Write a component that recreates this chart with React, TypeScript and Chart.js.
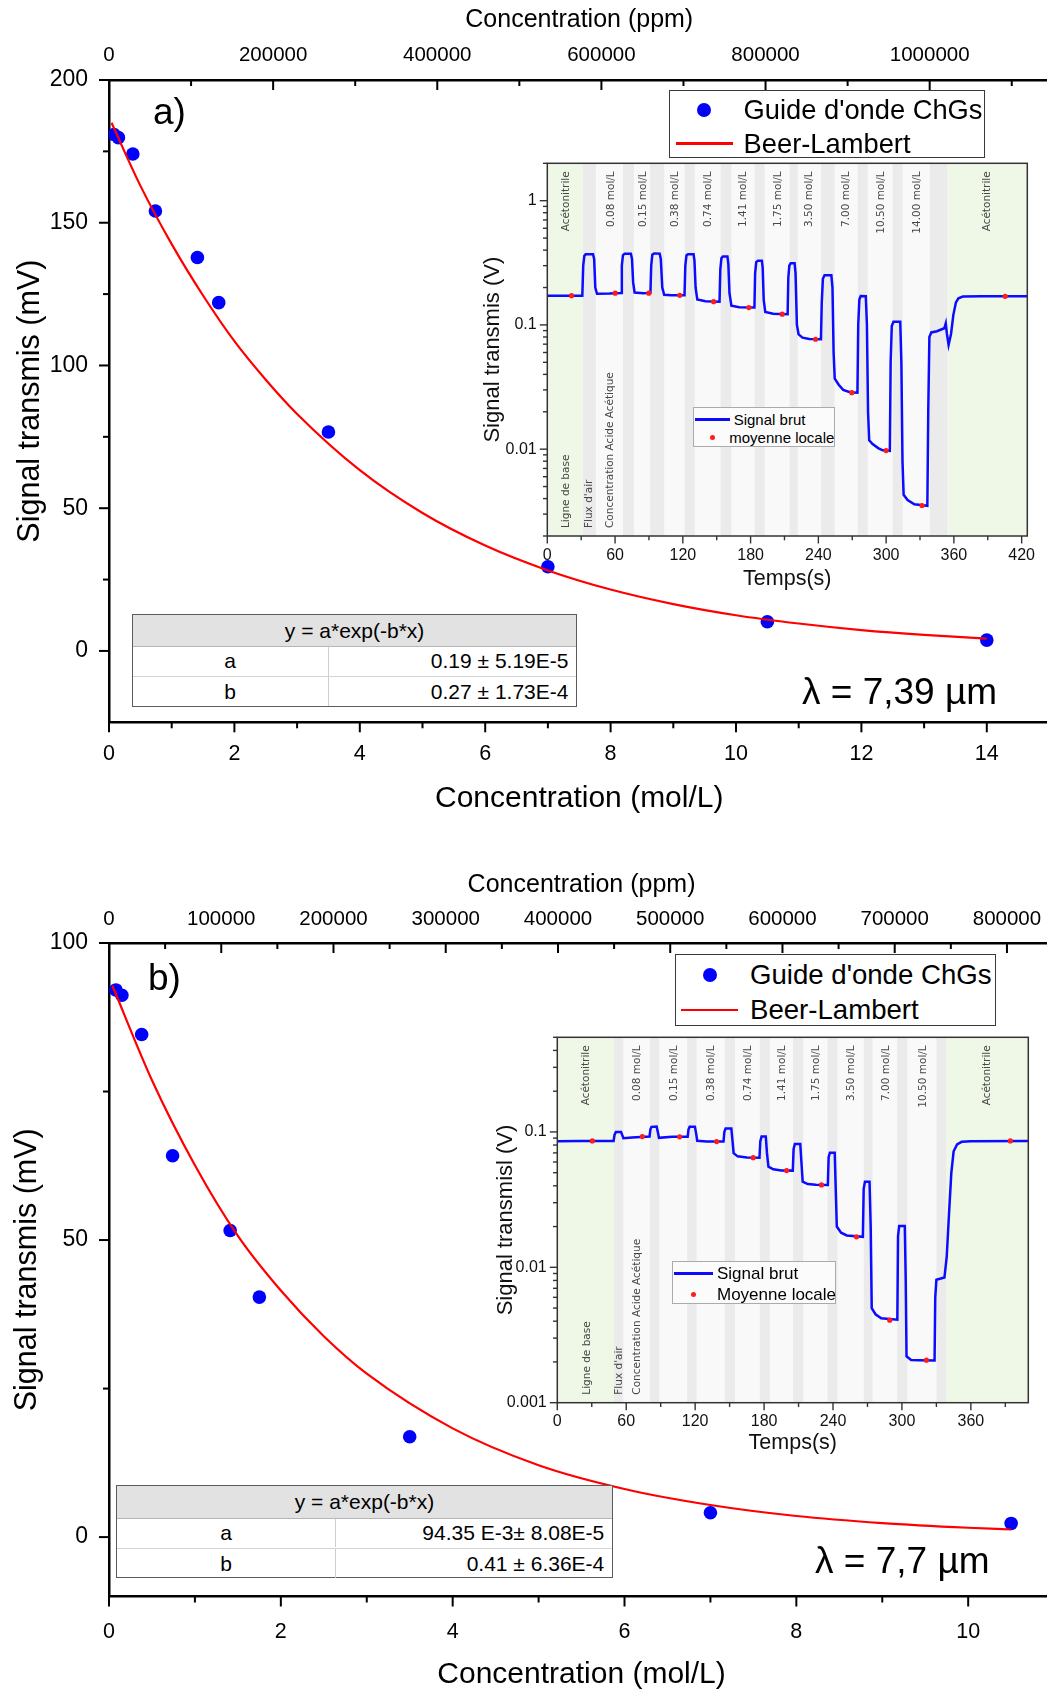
import React, { useEffect, useRef } from "react";
import { Chart, registerables } from "chart.js";

Chart.register(...registerables);

const SANS = "'Liberation Sans', Arial, Helvetica, sans-serif";
const BANDF = "'DejaVu Sans', Verdana, sans-serif";

// ---------------- Panel a) main chart (λ = 7,39 µm) ----------------
const concA = [0.08, 0.15, 0.38, 0.74, 1.41, 1.75, 3.5, 7, 10.5, 14];
const signalA = [180.9, 179.8, 174.1, 154.1, 137.8, 122.0, 76.7, 29.5, 10.2, 3.8];
const fitConcA = [0.04, 0.5, 1, 1.5, 2, 2.5, 3, 4, 5, 6, 7, 8, 9, 10, 11, 12, 13, 14];
const fitSignalA = [185, 163, 142.5, 124.5, 108.5, 95, 83, 63.3, 48.3, 36.9, 28.2, 21.5, 16.4, 12.5, 9.6, 7.3, 5.6, 4.3];
const xTicksA = [0, 2, 4, 6, 8, 10, 12, 14];
const xMinorA = [1, 3, 5, 7, 9, 11, 13];
const ppmTicksA = [0, 200000, 400000, 600000, 800000, 1000000];
const ppmMinorA = [100000, 300000, 500000, 700000, 900000, 1100000];
const yTicksA = [0, 50, 100, 150, 200];
const yMinorA = [25, 75, 125, 175];
const fitParamsA = [["a", "0.19 ± 5.19E-5"], ["b", "0.27 ± 1.73E-4"]];

// ---------------- Panel b) main chart (λ = 7,7 µm) ----------------
const concB = [0.08, 0.15, 0.38, 0.74, 1.41, 1.75, 3.5, 7, 10.5];
const signalB = [92.1, 91.2, 84.6, 64.2, 51.6, 40.4, 16.9, 4.1, 2.3];
const fitConcB = [0.04, 0.5, 1, 1.5, 2, 2.5, 3, 4, 5, 6, 7, 8, 9, 10, 10.5];
const fitSignalB = [92.8, 76.9, 62.6, 50.7, 41.5, 33.8, 27.5, 18.3, 12.1, 8.1, 5.4, 3.55, 2.36, 1.57, 1.28];
const xTicksB = [0, 2, 4, 6, 8, 10];
const xMinorB = [1, 3, 5, 7, 9];
const ppmTicksB = [0, 100000, 200000, 300000, 400000, 500000, 600000, 700000, 800000];
const ppmMinorB = [50000, 150000, 250000, 350000, 450000, 550000, 650000, 750000];
const yTicksB = [0, 50, 100];
const yMinorB = [25, 75];
const fitParamsB = [["a", "94.35 E-3± 8.08E-5"], ["b", "0.41 ± 6.36E-4"]];

// ---------------- Inset a) time trace ----------------
const traceA: [number, number][] = [
  [0, 0.172], [31, 0.172],
  [31.8, 0.3], [32.8, 0.36], [34, 0.37], [40.5, 0.37], [41.5, 0.34], [42.5, 0.2], [44, 0.178],
  [55, 0.179], [65.3, 0.181],
  [66, 0.3], [67, 0.365], [68.5, 0.374], [74, 0.374], [75, 0.34], [76, 0.22], [77.3, 0.182],
  [85, 0.18], [91.3, 0.181],
  [92, 0.3], [93, 0.368], [94.5, 0.376], [99.5, 0.375], [100.5, 0.34], [101.8, 0.2], [103.5, 0.175],
  [110, 0.173], [121.5, 0.173],
  [122.2, 0.3], [123.2, 0.362], [124.5, 0.37], [129.5, 0.37], [130.3, 0.33], [131.3, 0.2], [132.8, 0.16],
  [140, 0.155], [152.5, 0.154],
  [153.2, 0.28], [154.2, 0.345], [155.5, 0.355], [159.5, 0.355], [160.3, 0.31], [161.3, 0.18], [163, 0.143],
  [170, 0.139], [183.4, 0.138],
  [184, 0.26], [185, 0.32], [186.5, 0.329], [190, 0.329], [190.7, 0.29], [191.6, 0.16], [193, 0.127],
  [200, 0.123], [212.8, 0.122],
  [213.4, 0.24], [214.3, 0.3], [215.5, 0.313], [219, 0.313], [219.8, 0.26], [221, 0.1], [222.5, 0.084],
  [226, 0.079], [232, 0.0772], [242.3, 0.0767],
  [243, 0.15], [244, 0.235], [245.5, 0.251], [251.5, 0.251], [252.5, 0.2], [253.5, 0.06], [254.5, 0.037],
  [258, 0.033], [262, 0.03], [268, 0.0287], [274.6, 0.0285],
  [275.3, 0.1], [276.3, 0.16], [277.5, 0.171], [282, 0.17], [283, 0.1], [284, 0.02], [285, 0.0118],
  [288, 0.011], [293, 0.0102], [297, 0.0098], [303.3, 0.0097],
  [304, 0.05], [305, 0.098], [306.5, 0.106], [312.5, 0.106], [313.5, 0.05], [314.5, 0.008], [315.5, 0.0043],
  [319, 0.0039], [325, 0.0036], [336.5, 0.0035],
  [337.3, 0.02], [338.3, 0.08], [340, 0.087], [345, 0.089], [351.5, 0.094], [352.8, 0.103], [353.8, 0.085],
  [355.3, 0.069], [357.5, 0.085], [359.5, 0.12], [361.8, 0.152], [364, 0.164], [368, 0.169], [385, 0.17], [425, 0.17],
];
const meansA: [number, number][] = [
  [21.5, 0.172], [60.1, 0.18], [89.9, 0.18], [117.3, 0.173], [147.3, 0.154], [178.5, 0.138],
  [208, 0.122], [237.5, 0.0767], [269.6, 0.0285], [300, 0.00975], [331.8, 0.00352], [405.4, 0.17],
];
const airSpansA: [number, number][] = [
  [31.3, 43], [67, 76.7], [91, 103.5], [121.7, 130.5], [153.5, 163], [183.5, 192.4],
  [214.5, 221.8], [242.5, 254.3], [274.9, 283.7], [305.8, 314.6], [338.8, 354.4],
];
const solventSpansA: [number, number][] = [[0, 31.3], [354.4, 425]];
const topLabelsA: [string, number][] = [
  ["Acétonitrile", 16.5], ["0.08 mol/L", 56.3], ["0.15 mol/L", 84.9], ["0.38 mol/L", 112.9],
  ["0.74 mol/L", 142.3], ["1.41 mol/L", 173.8], ["1.75 mol/L", 204.2], ["3.50 mol/L", 232.2],
  ["7.00 mol/L", 264.6], ["10.50 mol/L", 295.5], ["14.00 mol/L", 327.3], ["Acétonitrile", 389.8],
];
const bottomLabelsA: [string, number][] = [
  ["Ligne de base", 17], ["Flux d'air", 37], ["Concentration Acide Acétique", 56],
];
const tTicksA = [0, 60, 120, 180, 240, 300, 360, 420];
const tMinorA = [30, 90, 150, 210, 270, 330, 390];
const vTicksA = [0.01, 0.1, 1];
const vMinorA = [0.002, 0.003, 0.004, 0.005, 0.006, 0.007, 0.008, 0.009, 0.02, 0.03, 0.04, 0.05, 0.06, 0.07, 0.08, 0.09, 0.2, 0.3, 0.4, 0.5, 0.6, 0.7, 0.8, 0.9, 2];

// ---------------- Inset b) time trace ----------------
const traceB: [number, number][] = [
  [0, 0.0855], [20, 0.0857], [49, 0.0858],
  [49.8, 0.095], [51, 0.1], [55.5, 0.1], [56.5, 0.095], [57.5, 0.0898],
  [65, 0.091], [80.3, 0.0925],
  [81, 0.104], [82, 0.109], [86.5, 0.1094], [87.5, 0.1], [88.5, 0.0905],
  [100, 0.092], [113.5, 0.092],
  [114.2, 0.104], [115.2, 0.109], [119.8, 0.109], [120.8, 0.098], [121.8, 0.086],
  [130, 0.085], [144.7, 0.085],
  [145.4, 0.1], [146.5, 0.1058], [151.5, 0.1058], [152.3, 0.09], [153.5, 0.0697], [157, 0.066],
  [165, 0.0648], [176, 0.0645],
  [176.7, 0.085], [177.8, 0.0924], [181.5, 0.0924], [182.5, 0.07], [183.8, 0.0554], [188, 0.053],
  [195, 0.052], [205, 0.0518],
  [205.7, 0.075], [206.8, 0.0815], [211.5, 0.0815], [212.5, 0.06], [213.6, 0.0429], [218, 0.0412],
  [225, 0.0407], [235.5, 0.0406],
  [236.2, 0.065], [237.3, 0.0703], [241.5, 0.0703], [242.3, 0.04], [243.3, 0.02], [247, 0.018],
  [252, 0.0172], [266, 0.0168],
  [266.7, 0.038], [267.8, 0.0429], [271.8, 0.0429], [272.8, 0.02], [273.7, 0.005], [277, 0.0045],
  [282, 0.0042], [296, 0.0041],
  [296.6, 0.017], [297.6, 0.0202], [302.5, 0.0202], [303.3, 0.008], [304, 0.0022], [308, 0.00207],
  [315, 0.00206], [328.4, 0.00205],
  [329, 0.006], [330, 0.0081], [337, 0.0084], [339, 0.012], [341, 0.025], [343, 0.05], [345, 0.072],
  [348, 0.081], [352, 0.0845], [360, 0.0855], [410, 0.0858],
];
const meansB: [number, number][] = [
  [30.5, 0.0858], [74, 0.0924], [106.5, 0.092], [138.7, 0.0848], [170.5, 0.0645], [199.6, 0.0518],
  [230, 0.0406], [260.4, 0.0168], [289.4, 0.00407], [321.3, 0.00206], [394.4, 0.0858],
];
const airSpansB: [number, number][] = [
  [49.3, 57.4], [80.6, 88.7], [113, 121.3], [145.9, 154.6], [176.3, 185], [205.3, 214],
  [235.2, 243.9], [266.8, 274.4], [295.8, 304.8], [330, 338.8],
];
const solventSpansB: [number, number][] = [[0, 49.3], [338.8, 410]];
const topLabelsB: [string, number][] = [
  ["Acétonitrile", 25.6], ["0.08 mol/L", 70], ["0.15 mol/L", 101.8], ["0.38 mol/L", 134.3],
  ["0.74 mol/L", 166.2], ["1.41 mol/L", 196], ["1.75 mol/L", 225.6], ["3.50 mol/L", 256],
  ["7.00 mol/L", 286], ["10.50 mol/L", 318.4], ["Acétonitrile", 374.4],
];
const bottomLabelsB: [string, number][] = [
  ["Ligne de base", 26], ["Flux d'air", 53.7], ["Concentration Acide Acétique", 69.6],
];
const tTicksB = [0, 60, 120, 180, 240, 300, 360];
const tMinorB = [30, 90, 150, 210, 270, 330, 390];
const vTicksB = [0.001, 0.01, 0.1];
const vMinorB = [0.002, 0.003, 0.004, 0.005, 0.006, 0.007, 0.008, 0.009, 0.02, 0.03, 0.04, 0.05, 0.06, 0.07, 0.08, 0.09, 0.2, 0.3, 0.4, 0.5];

const LABEL_POINTS = "Guide d'onde ChGs";
const LABEL_FIT = "Beer-Lambert";

// ---------------- helpers ----------------
const fnt = (size: number, family = SANS) => ({ family, size, lineHeight: 1 });
const noPad = (s: any) => { s.paddingTop = 0; s.paddingBottom = 0; s.paddingLeft = 0; s.paddingRight = 0; };

function tickPlugin(id: string, specs: any[]) {
  return {
    id,
    afterDraw(chart: any) {
      const { ctx, chartArea: a } = chart;
      ctx.save();
      ctx.lineCap = "butt";
      for (const s of specs) {
        const sc = chart.scales[s.scale];
        ctx.strokeStyle = s.color;
        ctx.lineWidth = s.width;
        const draw = (vals: number[], len: number) => {
          for (const v of vals) {
            const p = sc.getPixelForValue(v);
            ctx.beginPath();
            if (s.side === "bottom") {
              ctx.moveTo(p, a.bottom);
              ctx.lineTo(p, a.bottom + (s.inward ? -len : len));
            } else if (s.side === "top") {
              ctx.moveTo(p, a.top);
              ctx.lineTo(p, a.top + (s.inward ? len : -len));
            } else {
              ctx.moveTo(a.left, p);
              ctx.lineTo(a.left + (s.inward ? len : -len), p);
            }
            ctx.stroke();
          }
        };
        draw(s.major, s.majorLen);
        draw(s.minor, s.minorLen);
      }
      ctx.restore();
    },
  };
}

function makeMain(canvas: HTMLCanvasElement, c: any) {
  return new Chart(canvas, {
    type: "scatter",
    data: {
      datasets: [
        {
          type: "line",
          label: LABEL_FIT,
          data: c.fitConc.map((x: number, i: number) => ({ x, y: c.fitSignal[i] })),
          borderColor: "#ff0000",
          borderWidth: 2.2,
          pointRadius: 0,
          cubicInterpolationMode: "monotone",
          fill: false,
          xAxisID: "x",
          yAxisID: "y",
        },
        {
          type: "scatter",
          label: LABEL_POINTS,
          data: c.conc.map((x: number, i: number) => ({ x, y: c.signal[i] })),
          backgroundColor: "#0000ff",
          borderColor: "#0000ff",
          borderWidth: 0,
          pointRadius: 6.8,
          xAxisID: "x",
          yAxisID: "y",
        },
      ],
    } as any,
    options: {
      animation: false,
      responsive: false,
      maintainAspectRatio: false,
      devicePixelRatio: 1,
      events: [],
      layout: { padding: { left: 0, top: 0, right: c.padRight, bottom: 0 } },
      plugins: { legend: { display: false }, tooltip: { enabled: false } },
      scales: {
        x: {
          type: "linear",
          position: "bottom",
          min: 0,
          max: c.xMax,
          afterBuildTicks: (s: any) => { s.ticks = c.xTicks.map((v: number) => ({ value: v })); },
          afterFit: (s: any) => { s.height = c.bottomH; noPad(s); },
          grid: { drawOnChartArea: false, drawTicks: false },
          border: { display: true, color: "#000", width: 2.5 },
          ticks: { padding: c.bottomTickPad, font: fnt(21.5), color: "#000", maxRotation: 0, autoSkip: false, callback: (v: any) => String(v) },
          title: { display: true, text: "Concentration (mol/L)", font: fnt(30), color: "#000", padding: { top: 0, bottom: c.bottomTitlePad } },
        },
        ppm: {
          type: "linear",
          axis: "x",
          position: "top",
          min: 0,
          max: c.ppmMax,
          afterBuildTicks: (s: any) => { s.ticks = c.ppmTicks.map((v: number) => ({ value: v })); },
          afterFit: (s: any) => { s.height = c.topH; noPad(s); },
          grid: { drawOnChartArea: false, drawTicks: false },
          border: { display: true, color: "#000", width: 2.5 },
          ticks: { padding: c.topTickPad, font: fnt(20.5), color: "#000", maxRotation: 0, autoSkip: false, callback: (v: any) => String(v) },
          title: { display: true, text: "Concentration (ppm)", font: fnt(25), color: "#000", padding: { top: c.topTitlePad, bottom: 0 } },
        },
        y: {
          type: "linear",
          position: "left",
          min: c.yMin,
          max: c.yMax,
          afterBuildTicks: (s: any) => { s.ticks = c.yTicks.map((v: number) => ({ value: v })); },
          afterFit: (s: any) => { s.width = c.leftW; noPad(s); },
          grid: { drawOnChartArea: false, drawTicks: false },
          border: { display: true, color: "#000", width: 2.5 },
          ticks: { padding: c.leftTickPad, font: fnt(23), color: "#000", autoSkip: false, callback: (v: any) => String(v) },
          title: { display: true, text: "Signal transmis (mV)", font: fnt(30.5), color: "#000", padding: { top: c.leftTitlePad, bottom: 0 } },
        },
      },
    } as any,
    plugins: [
      tickPlugin("mainTicks", [
        { scale: "x", side: "bottom", major: c.xTicks, minor: c.xMinor, majorLen: 10, minorLen: 6, width: 2, color: "#000" },
        { scale: "ppm", side: "top", inward: true, major: c.ppmTicks, minor: c.ppmMinor, majorLen: 10, minorLen: 6, width: 2, color: "#000" },
        { scale: "y", side: "left", major: c.yTicks, minor: c.yMinor, majorLen: 10, minorLen: 6, width: 2, color: "#000" },
      ]),
    ] as any,
  });
}

const SOLVENT = "#eff7e7";
const AIR = "#ebebeb";
const LIQUID = "#f9f9f9";

function bandPlugin(c: any) {
  return {
    id: "bands",
    beforeDatasetsDraw(chart: any) {
      const { ctx, chartArea: a } = chart;
      const xs = chart.scales.x;
      ctx.save();
      ctx.beginPath();
      ctx.rect(a.left, a.top, a.right - a.left, a.bottom - a.top);
      ctx.clip();
      ctx.fillStyle = LIQUID;
      ctx.fillRect(a.left, a.top, a.right - a.left, a.bottom - a.top);
      const spans = (list: [number, number][], color: string) => {
        ctx.fillStyle = color;
        for (const [s, e] of list) {
          const x0 = xs.getPixelForValue(s);
          const x1 = xs.getPixelForValue(e);
          ctx.fillRect(x0, a.top, x1 - x0, a.bottom - a.top);
        }
      };
      spans(c.air, AIR);
      spans(c.solvent, SOLVENT);
      ctx.fillStyle = "#474747";
      ctx.font = `10.5px ${BANDF}`;
      ctx.textBaseline = "middle";
      for (const [txt, t] of c.topLabels) {
        ctx.save();
        ctx.translate(xs.getPixelForValue(t), a.top + 8);
        ctx.rotate(-Math.PI / 2);
        ctx.textAlign = "right";
        ctx.fillText(txt, 0, 0);
        ctx.restore();
      }
      for (const [txt, t] of c.bottomLabels) {
        ctx.save();
        ctx.translate(xs.getPixelForValue(t), a.bottom - 8);
        ctx.rotate(-Math.PI / 2);
        ctx.textAlign = "left";
        ctx.fillText(txt, 0, 0);
        ctx.restore();
      }
      ctx.restore();
    },
    afterDatasetsDraw(chart: any) {
      const { ctx, chartArea: a } = chart;
      ctx.save();
      ctx.strokeStyle = "#333";
      ctx.lineWidth = 1.5;
      ctx.strokeRect(a.left, a.top, a.right - a.left, a.bottom - a.top);
      ctx.restore();
    },
  };
}

function makeInset(canvas: HTMLCanvasElement, c: any) {
  return new Chart(canvas, {
    type: "scatter",
    data: {
      datasets: [
        {
          type: "scatter",
          label: c.meanLabel,
          data: c.means.map(([x, y]: [number, number]) => ({ x, y })),
          backgroundColor: "#ff1c1c",
          borderWidth: 0,
          pointRadius: 2.6,
        },
        {
          type: "line",
          label: "Signal brut",
          data: c.trace.map(([x, y]: [number, number]) => ({ x, y })),
          borderColor: "#0b0bff",
          borderWidth: 2.5,
          pointRadius: 0,
          tension: 0,
          fill: false,
        },
      ],
    } as any,
    options: {
      animation: false,
      responsive: false,
      maintainAspectRatio: false,
      devicePixelRatio: 1,
      events: [],
      layout: { padding: { left: 0, top: c.padTop, right: c.padRight, bottom: 0 } },
      plugins: { legend: { display: false }, tooltip: { enabled: false } },
      scales: {
        x: {
          type: "linear",
          position: "bottom",
          min: 0,
          max: c.tMax,
          afterBuildTicks: (s: any) => { s.ticks = c.tTicks.map((v: number) => ({ value: v })); },
          afterFit: (s: any) => { s.height = c.bottomH; noPad(s); },
          grid: { drawOnChartArea: false, drawTicks: false },
          border: { display: false },
          ticks: { padding: c.bottomTickPad, font: fnt(16), color: "#111", maxRotation: 0, autoSkip: false, callback: (v: any) => String(v) },
          title: { display: true, text: "Temps(s)", font: fnt(21.5), color: "#111", padding: { top: 0, bottom: c.bottomTitlePad } },
        },
        y: {
          type: "logarithmic",
          position: "left",
          min: c.vMin,
          max: c.vMax,
          afterBuildTicks: (s: any) => { s.ticks = c.vTicks.map((v: number) => ({ value: v })); },
          afterFit: (s: any) => { s.width = c.leftW; noPad(s); },
          grid: { drawOnChartArea: false, drawTicks: false },
          border: { display: false },
          ticks: { padding: c.leftTickPad, font: fnt(16), color: "#111", autoSkip: false, callback: (v: any) => String(v) },
          title: { display: true, text: c.yTitle, font: fnt(22), color: "#111", padding: { top: c.leftTitlePad, bottom: 0 } },
        },
      },
    } as any,
    plugins: [
      bandPlugin(c),
      tickPlugin("insetTicks", [
        { scale: "x", side: "bottom", major: c.tTicks, minor: c.tMinor, majorLen: 7.5, minorLen: 4.3, width: 1.4, color: "#333" },
        { scale: "y", side: "left", major: c.vTicks, minor: c.vMinor, majorLen: 7.5, minorLen: 4.3, width: 1.4, color: "#333" },
      ]),
    ] as any,
  });
}

const cfgMainA = {
  conc: concA, signal: signalA, fitConc: fitConcA, fitSignal: fitSignalA,
  xTicks: xTicksA, xMinor: xMinorA, ppmTicks: ppmTicksA, ppmMinor: ppmMinorA, yTicks: yTicksA, yMinor: yMinorA,
  xMax: 15, ppmMax: 1146000, yMin: -25, yMax: 200,
  padRight: 10.5, leftW: 109, topH: 80, bottomH: 107.7,
  topTitlePad: 7.5, topTickPad: 14.7, bottomTickPad: 21, bottomTitlePad: 16.7, leftTickPad: 21, leftTitlePad: 15,
};
const cfgMainB = {
  conc: concB, signal: signalB, fitConc: fitConcB, fitSignal: fitSignalB,
  xTicks: xTicksB, xMinor: xMinorB, ppmTicks: ppmTicksB, ppmMinor: ppmMinorB, yTicks: yTicksB, yMinor: yMinorB,
  xMax: 11, ppmMax: 842000, yMin: -10, yMax: 100,
  padRight: 10.9, leftW: 109, topH: 93, bottomH: 96.5,
  topTitlePad: 22.5, topTickPad: 13.25, bottomTickPad: 25, bottomTitlePad: 3, leftTickPad: 21, leftTitlePad: 12,
};
const cfgInsetA = {
  trace: traceA, means: meansA, air: airSpansA, solvent: solventSpansA, topLabels: topLabelsA, bottomLabels: bottomLabelsA,
  tTicks: tTicksA, tMinor: tMinorA, vTicks: vTicksA, vMinor: vMinorA, tMax: 425, vMin: 0.002, vMax: 2,
  yTitle: "Signal transmis (V)", meanLabel: "moyenne locale",
  padTop: 13.3, padRight: 19.7, leftW: 77.3, bottomH: 59,
  bottomTickPad: 11.3, bottomTitlePad: 5.5, leftTickPad: 10.6, leftTitlePad: 12.3,
};
const cfgInsetB = {
  trace: traceB, means: meansB, air: airSpansB, solvent: solventSpansB, topLabels: topLabelsB, bottomLabels: bottomLabelsB,
  tTicks: tTicksB, tMinor: tMinorB, vTicks: vTicksB, vMinor: vMinorB, tMax: 410, vMin: 0.001, vMax: 0.5,
  yTitle: "Signal transmisl (V)", meanLabel: "Moyenne locale",
  padTop: 17.3, padRight: 18.7, leftW: 87.3, bottomH: 62.3,
  bottomTickPad: 11, bottomTitlePad: 10.9, leftTickPad: 10.6, leftTitlePad: 24.5,
};

// ---------------- HTML overlays ----------------
function Txt(p: { x: number; y: number; size: number; children: any; family?: string; color?: string }) {
  return (
    <div
      style={{
        position: "absolute", left: p.x, top: p.y - p.size / 2, height: p.size, fontSize: p.size,
        lineHeight: `${p.size}px`, fontFamily: p.family || SANS, color: p.color || "#000", whiteSpace: "nowrap",
      }}
    >
      {p.children}
    </div>
  );
}

function MainLegend(p: { left: number; top: number; w: number; h: number; dot: [number, number]; textX: number; row2: number; line: [number, number]; size: number }) {
  return (
    <div style={{ position: "absolute", left: p.left, top: p.top, width: p.w, height: p.h, boxSizing: "border-box", border: "1px solid #3a3a3a", background: "#fff" }}>
      <div style={{ position: "absolute", left: p.dot[0] - 7, top: p.dot[1] - 7, width: 14, height: 14, borderRadius: "50%", background: "#0000ff" }} />
      <Txt x={p.textX} y={p.dot[1]} size={p.size}>{LABEL_POINTS}</Txt>
      <div style={{ position: "absolute", left: p.line[0], width: p.line[1] - p.line[0], top: p.row2 - 1.1, height: 2.2, background: "#ff0000" }} />
      <Txt x={p.textX} y={p.row2} size={p.size}>{LABEL_FIT}</Txt>
    </div>
  );
}

function InsetLegend(p: { left: number; top: number; w: number; h: number; size: number; line: [number, number]; row1: number; text1: number; dot: [number, number]; text2: number; meanLabel: string }) {
  return (
    <div style={{ position: "absolute", left: p.left, top: p.top, width: p.w, height: p.h, boxSizing: "border-box", border: "1px solid #ababab", background: "#fbfbfb" }}>
      <div style={{ position: "absolute", left: p.line[0], width: p.line[1] - p.line[0], top: p.row1 - 1.25, height: 2.5, background: "#0b0bff" }} />
      <Txt x={p.text1} y={p.row1} size={p.size}>Signal brut</Txt>
      <div style={{ position: "absolute", left: p.dot[0] - 2.6, top: p.dot[1] - 2.6, width: 5.2, height: 5.2, borderRadius: "50%", background: "#ff1c1c" }} />
      <Txt x={p.text2} y={p.dot[1]} size={p.size}>{p.meanLabel}</Txt>
    </div>
  );
}

function FitTable(p: { left: number; top: number; width: number; col1: number; headH: number; rowH: number; rows: string[][] }) {
  const H = p.headH + p.rowH * p.rows.length;
  return (
    <div style={{ position: "absolute", left: p.left, top: p.top, width: p.width, height: H, boxSizing: "border-box", border: "1.5px solid #5c5c5c", background: "#fff", fontFamily: SANS, fontSize: 21, color: "#000" }}>
      <div style={{ position: "absolute", left: 0, right: 0, top: 0, height: p.headH, background: "#e2e2e2", borderBottom: "1px solid #b5b5b5", boxSizing: "border-box", display: "flex", alignItems: "center", justifyContent: "center", lineHeight: "21px" }}>
        y = a*exp(-b*x)
      </div>
      {p.rows.map((r, i) => (
        <div key={i} style={{ position: "absolute", left: 0, right: 0, top: p.headH + i * p.rowH - 1.5, height: p.rowH, boxSizing: "border-box", borderTop: i ? "1px solid #d4d4d4" : "none" }}>
          <div style={{ position: "absolute", left: 0, width: p.col1, top: 0, bottom: 0, display: "flex", alignItems: "center", justifyContent: "center", borderRight: "1px solid #cdcdcd", lineHeight: "21px" }}>{r[0]}</div>
          <div style={{ position: "absolute", left: p.col1, right: 0, top: 0, bottom: 0, display: "flex", alignItems: "center", justifyContent: "flex-end", paddingRight: 8, lineHeight: "21px" }}>{r[1]}</div>
        </div>
      ))}
    </div>
  );
}

export default function App() {
  const mainA = useRef<HTMLCanvasElement>(null);
  const insetA = useRef<HTMLCanvasElement>(null);
  const mainB = useRef<HTMLCanvasElement>(null);
  const insetB = useRef<HTMLCanvasElement>(null);

  useEffect(() => {
    const charts = [
      makeMain(mainA.current!, cfgMainA),
      makeInset(insetA.current!, cfgInsetA),
      makeMain(mainB.current!, cfgMainB),
      makeInset(insetB.current!, cfgInsetB),
    ];
    return () => charts.forEach((c) => c.destroy());
  }, []);

  const cv = (left: number, top: number, w: number, h: number) => ({ position: "absolute" as const, left, top, width: w, height: h });

  return (
    <div style={{ position: "absolute", left: 0, top: 0, width: 1047, height: 1693, overflow: "hidden", background: "#fff" }}>
      <canvas ref={mainA} width={1060} height={830} style={cv(0, 0, 1060, 830)} />
      <canvas ref={mainB} width={1065} height={843} style={cv(0, 850, 1065, 843)} />
      <canvas ref={insetA} width={577} height={445} style={cv(470, 150, 577, 445)} />
      <canvas ref={insetB} width={577} height={445} style={cv(470, 1020, 577, 445)} />

      <Txt x={153} y={111} size={37}>a)</Txt>
      <Txt x={148} y={977} size={37}>b)</Txt>

      <MainLegend left={669} top={90} w={316} h={68} dot={[33.7, 19]} textX={73.6} row2={52.5} line={[5.6, 62.8]} size={27.3} />
      <MainLegend left={674.6} top={954.2} w={321} h={72.3} dot={[34.6, 19.4]} textX={74.4} row2={55} line={[5.4, 62.6]} size={27.6} />

      <InsetLegend left={692.7} top={407} w={142.3} h={39.7} size={15} line={[1.3, 36.6]} row1={11.3} text1={40} dot={[19, 29.7]} text2={35.6} meanLabel={cfgInsetA.meanLabel} />
      <InsetLegend left={671.7} top={1260.7} w={164.3} h={43.6} size={17} line={[1.6, 40]} row1={11.6} text1={44.3} dot={[21, 32.6]} text2={44.3} meanLabel={cfgInsetB.meanLabel} />

      <FitTable left={131.7} top={614} width={445.8} col1={195} headH={31.7} rowH={30.5} rows={fitParamsA} />
      <FitTable left={115.7} top={1485} width={497.6} col1={218.6} headH={32.7} rowH={30.3} rows={fitParamsB} />

      <Txt x={802} y={691} size={37}>λ = 7,39 µm</Txt>
      <Txt x={815} y={1560} size={37}>λ = 7,7 µm</Txt>
    </div>
  );
}
